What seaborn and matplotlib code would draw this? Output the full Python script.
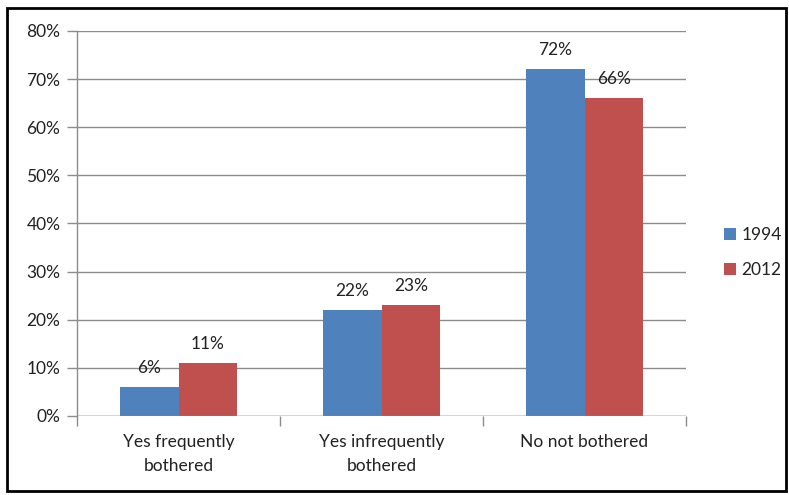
import matplotlib
matplotlib.use("Agg")
import matplotlib.pyplot as plt
from matplotlib.patches import Rectangle
from matplotlib.ticker import FuncFormatter, FixedLocator
import seaborn as sns
import pandas as pd

categories = ["Yes frequently\nbothered", "Yes infrequently\nbothered", "No not bothered"]
years = ["1994", "2012"]
values_1994 = [6, 22, 72]
values_2012 = [11, 23, 66]
colors = ["#4F81BD", "#C0504D"]

df = pd.DataFrame({
    "category": categories * 2,
    "year": [years[0]] * 3 + [years[1]] * 3,
    "value": values_1994 + values_2012,
})

sns.set_theme(style="white")
plt.rcParams["font.family"] = ["Lato", "DejaVu Sans"]

FS = 12.5
TXT = "#222222"

fig = plt.figure(figsize=(7.89, 4.95), dpi=100)
ax = fig.add_axes([0.0976, 0.1596, 0.7719, 0.7778])

sns.barplot(data=df, x="category", y="value", hue="year", palette=colors,
            width=0.58, gap=0, saturation=1, linewidth=0, edgecolor="none",
            ax=ax, legend=True, zorder=3)

ax.set_ylim(0, 80)
ax.set_xlim(-0.5, 2.5)
ax.yaxis.set_major_locator(FixedLocator(range(0, 81, 10)))
ax.yaxis.set_major_formatter(FuncFormatter(lambda v, _: f"{int(v)}%"))
ax.grid(axis="y", color="#8c8c8c", linewidth=1.0, zorder=0)
ax.set_axisbelow(True)
ax.set_xlabel("")
ax.set_ylabel("")

for s in ["top", "right", "bottom"]:
    ax.spines[s].set_visible(False)
ax.spines["left"].set_color("#8c8c8c")
ax.spines["left"].set_linewidth(1.0)
ax.axhline(0, color="#8c8c8c", linewidth=1.0, zorder=4)

ax.tick_params(axis="y", which="major", length=7, width=1.0, color="#8c8c8c",
               left=True, labelsize=FS, labelcolor=TXT, pad=5)
ax.tick_params(axis="x", which="major", length=0, labelsize=FS,
               labelcolor=TXT, pad=13)
for lbl in ax.get_xticklabels():
    lbl.set_linespacing(1.6)
# category boundary tick marks below the baseline
ax.set_xticks([-0.5, 0.5, 1.5, 2.5], minor=True)
ax.tick_params(axis="x", which="minor", length=7, width=1.0, color="#8c8c8c",
               bottom=True, direction="out")

for container in ax.containers:
    ax.bar_label(container, labels=[f"{int(v)}%" for v in container.datavalues],
                 padding=8, fontsize=FS, color=TXT)

handles, labels = ax.get_legend_handles_labels()
ax.legend_.remove()
fig.legend(handles, labels, loc="center left", bbox_to_anchor=(0.898, 0.49),
           frameon=False, fontsize=FS, handlelength=0.7, handleheight=0.7,
           handletextpad=0.3, labelspacing=1.1, labelcolor=TXT)

fig.patches.append(Rectangle((0.009, 0.008), 0.987, 0.976, transform=fig.transFigure,
                             fill=False, edgecolor="black", linewidth=2.0))

fig.savefig("out.png", dpi=100)
